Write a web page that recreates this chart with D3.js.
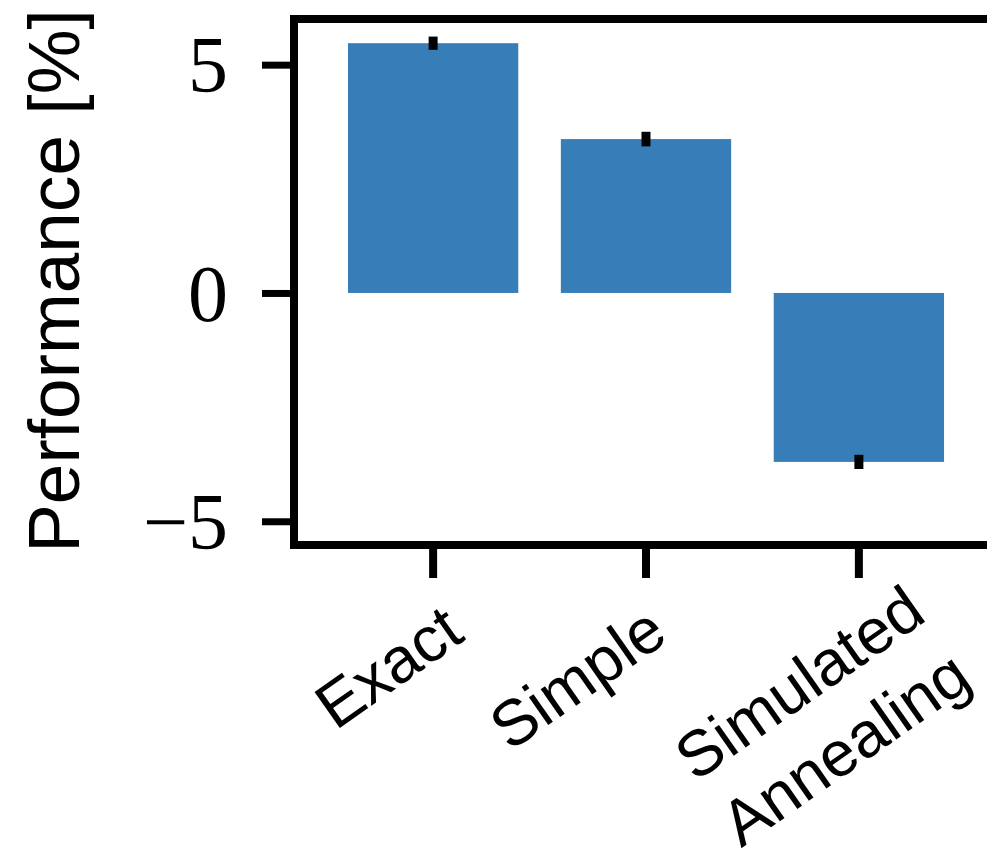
<!DOCTYPE html>
<html>
<head>
<meta charset="utf-8">
<script src="https://cdn.jsdelivr.net/npm/d3@7"></script>
<style>
  body { margin: 0; background: #fff; }
  svg { display: block; }
</style>
</head>
<body>
<div id="chart"></div>
<script>
// data
const categories = ["Exact", "Simple", "Simulated Annealing"];
const labelLines = [["Exact"], ["Simple"], ["Simulated", "Annealing"]];
const performance = [5.47, 3.37, -3.70];
const errors = [0.145, 0.16, 0.155];
const yTicks = [-5, 0, 5];

const W = 987, H = 848;
const margin = {left: 294, right: 998, top: 19, bottom: 545};

const svg = d3.select("#chart")
    .append("svg")
    .attr("width", W)
    .attr("height", H);

const xScale = d3.scaleBand()
    .domain(categories)
    .range([margin.left, margin.right])
    .paddingInner(0.2)
    .paddingOuter(0.2535);

const yScale = d3.scaleLinear()
    .domain([-5.52, 6.0])
    .range([margin.bottom, margin.top]);

// bars
svg.selectAll(".bar")
    .data(categories)
    .join("rect")
    .attr("class", "bar")
    .attr("x", d => xScale(d))
    .attr("width", xScale.bandwidth())
    .attr("y", (d, i) => yScale(Math.max(0, performance[i])))
    .attr("height", (d, i) => Math.abs(yScale(performance[i]) - yScale(0)))
    .attr("fill", "#377eb8");

// error bars (no caps)
svg.selectAll(".err")
    .data(categories)
    .join("line")
    .attr("class", "err")
    .attr("x1", d => xScale(d) + xScale.bandwidth() / 2)
    .attr("x2", d => xScale(d) + xScale.bandwidth() / 2)
    .attr("y1", (d, i) => yScale(performance[i] - errors[i]))
    .attr("y2", (d, i) => yScale(performance[i] + errors[i]))
    .attr("stroke", "#000")
    .attr("stroke-width", 9);

// y axis ticks + labels
const yAxis = d3.axisLeft(yScale)
    .tickValues(yTicks)
    .tickSize(32)
    .tickPadding(34)
    .tickFormat(d => d < 0 ? "\u2212" + Math.abs(d) : d);

const yAxGr = svg.append("g")
    .attr("transform", "translate(" + margin.left + ",0)")
    .call(yAxis);
yAxGr.select(".domain").remove();
yAxGr.selectAll(".tick line").attr("stroke", "#000").attr("stroke-width", 7);
yAxGr.selectAll(".tick text")
    .attr("fill", "#000")
    .attr("font-family", "'Liberation Serif', 'Times New Roman', serif")
    .attr("font-size", 80)
    .attr("dy", "0.34em");

// x axis ticks
const xAxis = d3.axisBottom(xScale)
    .tickSize(33)
    .tickFormat("");
const xAxGr = svg.append("g")
    .attr("transform", "translate(0," + margin.bottom + ")")
    .call(xAxis);
xAxGr.select(".domain").remove();
xAxGr.selectAll(".tick line").attr("stroke", "#000").attr("stroke-width", 8);

// rotated category labels, small hand nudges to sit like the original
const labelNudge = [[-32, 140], [-56, 151], [-47, 156]];
const labelFont = 64, lineGap = 80;
categories.forEach((c, i) => {
    const cx = xScale(c) + xScale.bandwidth() / 2 + labelNudge[i][0];
    const cy = margin.bottom + labelNudge[i][1];
    const t = svg.append("text")
        .attr("transform", "translate(" + cx + "," + cy + ") rotate(-35)")
        .attr("text-anchor", "middle")
        .attr("font-family", "'Liberation Sans', Arial, sans-serif")
        .attr("font-size", labelFont)
        .attr("fill", "#000");
    labelLines[i].forEach((line, j) => {
        t.append("tspan")
            .attr("x", 0)
            .attr("y", j * lineGap)
            .text(line);
    });
});

// y label
svg.append("text")
    .attr("transform", "translate(79,281) rotate(-90)")
    .attr("text-anchor", "middle")
    .attr("font-family", "'Liberation Sans', Arial, sans-serif")
    .attr("font-size", 73)
    .attr("fill", "#000")
    .text("Performance [%]");

// spines (right edge falls outside the picture)
svg.append("rect")
    .attr("x", margin.left)
    .attr("y", margin.top)
    .attr("width", margin.right - margin.left)
    .attr("height", margin.bottom - margin.top)
    .attr("fill", "none")
    .attr("stroke", "#000")
    .attr("stroke-width", 8);
</script>
</body>
</html>
